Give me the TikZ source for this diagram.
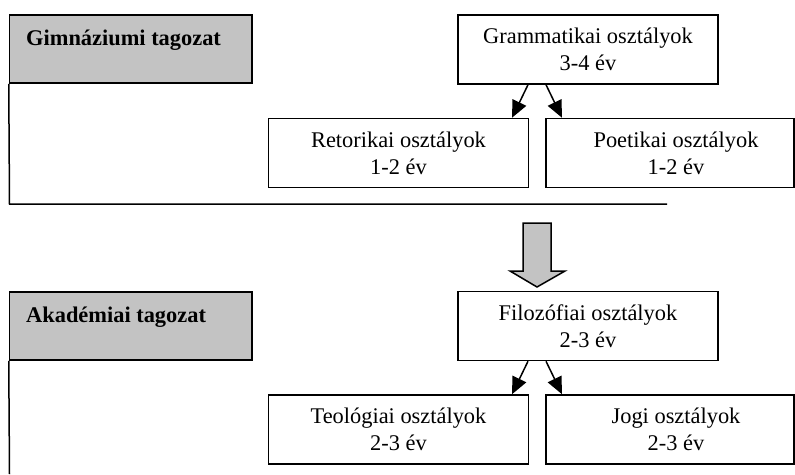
\documentclass[tikz,border=0pt]{standalone}
\usepackage{fontspec}
\setmainfont{Liberation Serif}
\usetikzlibrary{arrows.meta}
\definecolor{panelgray}{RGB}{195,195,195}
\begin{document}
\begin{tikzpicture}[x=1pt,y=-1pt,
  txt/.style={font=\fontsize{22.4}{27}\selectfont},
  classbox/.style={draw, line width=1.5pt, fill=white, minimum width=260, minimum height=69,
    inner sep=0pt, align=center, txt},
  sidebox/.style={draw, line width=1.5pt, fill=white, minimum width=248, minimum height=69, inner sep=0pt},
  headbox/.style={draw, line width=1.5pt, fill=panelgray, minimum width=242.5, minimum height=68, inner sep=0pt},
  headlbl/.style={txt, font=\fontsize{22.4}{27}\selectfont\bfseries, anchor=base west, inner sep=0pt},
  frameline/.style={line width=1.5pt},
  tiparrow/.style={line width=1.5pt, -{Triangle[length=17pt,width=15pt]}},
  bigarrow/.style={draw, line width=1.5pt, fill=panelgray, line join=miter}
]
\useasboundingbox (0,0) rectangle (795,474);

% ---- Gimnáziumi tagozat ----
\node[headbox] (gimn) at (130.75,49) {};
\node[headlbl] (gimnlbl) at (26,45) {Gimnáziumi tagozat};
\coordinate (gcorner) at (9.5,204);
\coordinate (gend) at (667,204);
\draw[frameline] (gimn.south west) -- (gcorner) -- (gend);

\node[classbox] (gram) at (588,49.5) {Grammatikai osztályok\\3-4 év};
\node[classbox] (reto) at (398.5,153) {Retorikai osztályok\\1-2 év};
\node[sidebox] (poet) at (670,153) {};
\node[txt, align=center, inner sep=0pt] (poetlbl) at (676,153) {Poetikai osztályok\\1-2 év};

\draw[tiparrow] ([xshift=-60]gram.south) -- ([xshift=113.5]reto.north);
\draw[tiparrow] ([xshift=-42]gram.south) -- ([xshift=-108]poet.north);

% ---- transition arrow ----
\draw[bigarrow] (523,223) -- (551,223) -- (551,271) -- (565,271) -- (537,287)
  -- (510,271) -- (523,271) -- cycle;

% ---- Akadémiai tagozat ----
\node[headbox] (akad) at (130.75,326) {};
\node[headlbl] (akadlbl) at (26,322) {Akadémiai tagozat};
\coordinate (aend) at (9.5,474);
\draw[frameline] (akad.south west) -- (aend);

\node[classbox] (filo) at (588,326) {Filozófiai osztályok\\2-3 év};
\node[classbox] (teol) at (398.5,429.5) {Teológiai osztályok\\2-3 év};
\node[sidebox] (jogi) at (670,429.5) {};
\node[txt, align=center, inner sep=0pt] (jogilbl) at (676,429.5) {Jogi osztályok\\2-3 év};

\draw[tiparrow] ([xshift=-60]filo.south) -- ([xshift=113.5]teol.north);
\draw[tiparrow] ([xshift=-42]filo.south) -- ([xshift=-108]jogi.north);
\end{tikzpicture}
\end{document}
